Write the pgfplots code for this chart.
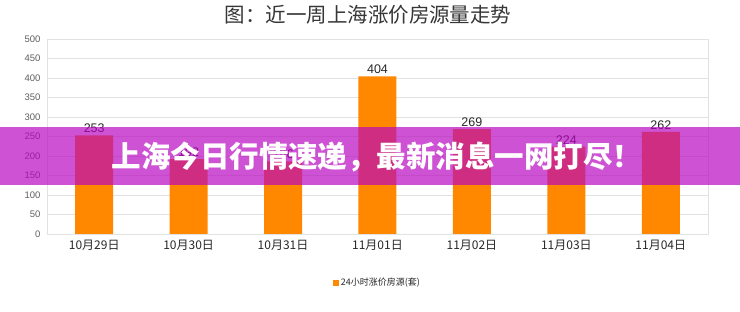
\documentclass[border=0pt]{standalone}
\usepackage{pgfplots}
\pgfplotsset{compat=1.18}
\usepackage{fontspec}
\setmainfont{Noto Sans CJK SC}
\newfontfamily\numfont{Liberation Sans}

\definecolor{barorange}{RGB}{255,136,0}
\definecolor{bandcol}{RGB}{184,2,192}
\definecolor{gridgray}{RGB}{226,226,226}
\definecolor{ticktext}{RGB}{95,95,95}
\definecolor{titletext}{RGB}{55,55,55}
\definecolor{labeltext}{RGB}{40,40,40}

\begin{document}
\begin{tikzpicture}[x=1pt,y=1pt]
% page frame
\fill[white] (0,0) rectangle (740,312);
\node[font=\fontsize{20.5}{21}\selectfont, text=titletext] at (368,297) {图：近一周上海涨价房源量走势};

\begin{axis}[
  at={(47pt,78pt)}, anchor=south west,
  scale only axis, width=661pt, height=195pt,
  xmin=-0.5, xmax=6.5, ymin=0, ymax=500,
  ytick={0,50,...,500},
  xtick={0,...,6},
  xticklabels={10月29日,10月30日,10月31日,11月01日,11月02日,11月03日,11月04日},
  ybar, bar width=38pt,
  ymajorgrids, grid style={gridgray, line width=0.8pt},
  axis line style={gridgray, line width=0.8pt},
  major tick length=0pt,
  /pgf/number format/assume math mode=true,
  yticklabel style={font=\numfont\fontsize{9.5}{10}\selectfont, text=ticktext, xshift=-3pt},
  xticklabel style={font=\fontsize{12}{12}\selectfont, text=labeltext, yshift=-3pt},
  nodes near coords,
  nodes near coords style={font=\numfont\fontsize{12.5}{12}\selectfont, text=labeltext, yshift=-1pt},
  legend style={at={(0.5,-0.25)}, anchor=center, draw=none, fill=none,
    font=\fontsize{9}{9}\selectfont, text=labeltext},
  legend image code/.code={\fill[barorange] (0pt,-3pt) rectangle (6pt,3pt);},
]
\addplot[fill=barorange, draw=none] coordinates {
  (0,253) (1,192) (2,186) (3,404) (4,269) (5,224) (6,262)};
\addlegendentry{24小时涨价房源(套)}
\end{axis}

% headline band
\fill[bandcol, fill opacity=0.68] (0,127) rectangle (740,185);
\node[text=white, font=\bfseries\fontsize{29.5}{30}\selectfont] at (377,155) {上海今日行情速递，最新消息一网打尽！};
\end{tikzpicture}
\end{document}
